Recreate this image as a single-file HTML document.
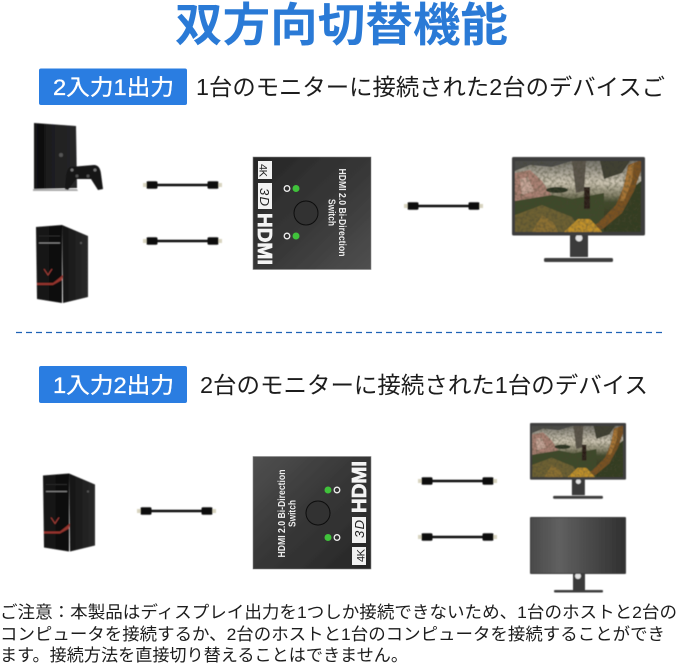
<!DOCTYPE html>
<html lang="ja"><head><meta charset="utf-8"><style>
html,body{margin:0;padding:0;background:#fff;width:679px;height:664px;overflow:hidden}
svg{display:block}
text{font-family:"Liberation Sans","Noto Sans CJK JP",sans-serif}
</style></head><body>
<svg width="679" height="664" viewBox="0 0 679 664" xmlns="http://www.w3.org/2000/svg">
<defs>
<filter id="b" x="-5%" y="-5%" width="110%" height="110%"><feGaussianBlur stdDeviation=".4"/></filter>
<filter id="b2" x="-5%" y="-5%" width="110%" height="110%"><feGaussianBlur stdDeviation=".25"/></filter>
<filter id="noise" x="0" y="0" width="100%" height="100%"><feTurbulence type="fractalNoise" baseFrequency=".35" numOctaves="2" seed="7"/><feColorMatrix values="0 0 0 0 .06  0 0 0 0 .06  0 0 0 0 .03  1.3 0 0 0 -.5"/></filter>
<clipPath id="scr"><rect x="3" y="4" width="126" height="71"/></clipPath>
<linearGradient id="sw" x1="0" y1="0" x2="1" y2="1"><stop offset="0" stop-color="#262626"/><stop offset=".55" stop-color="#383838"/><stop offset="1" stop-color="#505050"/></linearGradient>
<linearGradient id="sky" x1="0" y1="0" x2="0" y2="1"><stop offset="0" stop-color="#77756e"/><stop offset=".3" stop-color="#d0c8b6"/><stop offset=".48" stop-color="#85826a"/><stop offset=".58" stop-color="#414a2c"/><stop offset="1" stop-color="#2e2d18"/></linearGradient>
<linearGradient id="off" x1="0" y1="0" x2="1" y2="0"><stop offset="0" stop-color="#4a4a4a"/><stop offset=".3" stop-color="#606060"/><stop offset="1" stop-color="#303030"/></linearGradient>
<linearGradient id="tw" x1="0" y1="0" x2="1" y2="0"><stop offset="0" stop-color="#171717"/><stop offset="1" stop-color="#0c0c0c"/></linearGradient>
<linearGradient id="tws" x1="0" y1="0" x2="1" y2="0"><stop offset="0" stop-color="#141414"/><stop offset="1" stop-color="#2a2a2a"/></linearGradient>
<linearGradient id="ps" x1="0" y1="0" x2="1" y2="0"><stop offset="0" stop-color="#151516"/><stop offset=".2" stop-color="#0c0c0c"/><stop offset=".3" stop-color="#1d1d1e"/><stop offset="1" stop-color="#272728"/></linearGradient>
<g id="cable">
<rect x="0" y="-2" width="5" height="4" fill="#d8d4c0"/>
<rect x="74" y="-2" width="5" height="4" fill="#d8d4c0"/>
<rect x="3.500" y="-3.700" width="11" height="7.400" rx="1.500" fill="#111"/>
<rect x="64.500" y="-3.700" width="11" height="7.400" rx="1.500" fill="#111"/>
<path d="M14 0H65" stroke="#111" stroke-width="2.400"/>
</g>
<g id="tower">
<path d="M0 2L26 0V78L1 74Z" fill="url(#tw)"/>
<path d="M26 0L52 11V72L27 78Z" fill="url(#tws)"/>
<path d="M3 18H24" stroke="#888" stroke-width="1"/>
<path d="M3 11H24" stroke="#333" stroke-width=".8"/>
<path d="M1 58L17 58L27 50L26 55L17 60H1Z" fill="#96352f"/>
<path d="M8 44L12 50L16 44" fill="none" stroke="#a8403a" stroke-width="1"/>
<rect x="44" y="17" width="2" height="2" fill="#555"/>
</g>
<g id="mon">
<rect x="58" y="76" width="18" height="24" fill="#3a3a3a"/>
<circle cx="67" cy="81" r="3.500" fill="#e4e4e4"/>
<rect x="32" y="101" width="69" height="4" rx="1.500" fill="#3c3c3c"/>
<rect x="0" y="0" width="133" height="78.500" rx="1.500" fill="#3e3e3e"/>
<g clip-path="url(#scr)">
<rect x="3" y="4" width="126" height="71" fill="url(#sky)"/>
<path d="M3 4H60L40 10L18 8L3 14Z" fill="#4c4c4a"/>
<path d="M3 16L18 13L30 24L42 42L3 46Z" fill="#ab8174"/>
<path d="M8 22L16 20L22 34L10 38Z" fill="#c9a79a"/>
<path d="M3 44L40 38L60 42L92 36V75H3Z" fill="#3d482a"/>
<path d="M3 58L30 48L60 60L70 75H3Z" fill="#6e6130"/>
<path d="M60 4L74 4L72 34L64 36Z" fill="#5c554c"/>
<ellipse cx="45" cy="33" rx="11" ry="3" fill="#2a3322"/>
<path d="M88 4H118L110 16L92 22Z" fill="#3e3e32"/>
<path d="M112 38L129 24V75H92Z" fill="#333c20"/>
<path d="M70 75L86 66L104 48L113 26L116 8L129 3V14L122 34L110 56L92 71L84 75Z" fill="#7c5222"/>
<path d="M116 10L122 6L120 24L112 44L108 44Z" fill="#a87434"/>
<path d="M52 75L66 62L78 62L90 75Z" fill="#c2922c"/>
<path d="M20 75L30 58L42 66L46 75Z" fill="#8c7030"/>
<rect x="72" y="30" width="6" height="22" fill="#2a1d18"/>
<rect x="3" y="4" width="126" height="71" filter="url(#noise)"/>
</g>
</g>
<g id="monoff">
<rect x="43" y="56" width="12" height="18" fill="#3a3a3a"/>
<circle cx="48" cy="59" r="3" fill="#e4e4e4"/>
<rect x="24" y="73" width="49" height="2.500" rx="1" fill="#3c3c3c"/>
<rect x="0" y="0" width="96" height="57" rx="1" fill="#3a3a3a"/>
<rect x="1" y="1" width="94" height="55" fill="url(#off)"/>
</g>
<g id="swg">
<rect x="253" y="157" width="118" height="112.500" fill="url(#sw)" stroke="#888" stroke-width=".6"/>
<rect x="258" y="161" width="14" height="18" fill="#f2f2f2"/>
<rect x="258" y="183" width="14" height="26" fill="#f2f2f2"/>
<circle cx="306" cy="213" r="12" fill="#333" stroke="#0c0c0c" stroke-width="1"/>
<circle cx="296" cy="188.500" r="3.500" fill="#3fc23a"/>
<circle cx="296" cy="236" r="3.500" fill="#3fc23a"/>
<circle cx="287" cy="188.500" r="2.800" fill="none" stroke="#eee" stroke-width="1.300"/>
<circle cx="287" cy="236" r="2.800" fill="none" stroke="#eee" stroke-width="1.300"/>
</g>
</defs>

<text x="175" y="41" font-size="46" font-weight="700" fill="#2a7ad6" textLength="333" lengthAdjust="spacingAndGlyphs">双方向切替機能</text>

<rect x="39" y="68.500" width="148" height="36.500" rx="2" fill="#2a7de1"/>
<text x="53" y="95" font-size="22" fill="#fff" stroke="#fff" stroke-width=".3" textLength="121" lengthAdjust="spacingAndGlyphs">2入力1出力</text>
<text x="196" y="95" font-size="23" fill="#1c1c1c" textLength="469" lengthAdjust="spacingAndGlyphs">1台のモニターに接続された2台のデバイスご</text>

<g filter="url(#b)">
<path d="M34 123L76 126L77 188L34 189Z" fill="url(#ps)"/>
<path d="M33 189H77L78 191H33Z" fill="#aaa"/>
<circle cx="61" cy="155" r="2" fill="#555"/>
<path d="M70 167L94 165Q100 165 101 174L103 189L98 190L91 179H76L68 190L65 189L66 176Q67 169 70 167Z" fill="#141416"/>
<circle cx="72" cy="170" r="1.500" fill="#777"/><circle cx="95" cy="170" r="1.500" fill="#777"/>
<circle cx="77" cy="176" r="1.500" fill="#555"/><circle cx="88" cy="176" r="1.500" fill="#555"/>
<use href="#tower" x="36" y="225"/>
<use href="#cable" x="143" y="185"/>
<use href="#cable" x="143" y="241"/>
<use href="#cable" x="404" y="206"/>
<use href="#mon" x="512" y="157"/>
<use href="#tower" x="43" y="473.500"/>
<use href="#cable" x="137" y="511"/>
<use href="#cable" x="418" y="481"/>
<use href="#cable" x="418" y="537"/>
<use href="#mon" transform="translate(530,423) scale(.722,.722)"/>
<use href="#monoff" x="530" y="517"/>
</g>

<g filter="url(#b2)">
<use href="#swg"/>
<text transform="translate(259.500,164) rotate(90)" font-size="11" fill="#222" textLength="13">4K</text>
<text transform="translate(260,188) rotate(90)" font-size="13" font-style="italic" fill="#222" textLength="18">3D</text>
<text transform="translate(258,213) rotate(90)" font-size="20" font-weight="700" fill="#f4f4f4" stroke="#f4f4f4" stroke-width=".7" textLength="52" lengthAdjust="spacingAndGlyphs">HDMI</text>
<text transform="translate(339,168.500) rotate(90)" font-size="10.500" font-weight="700" fill="#eee" textLength="88" lengthAdjust="spacingAndGlyphs">HDMI 2.0 Bi-Direction</text>
<text transform="translate(328.500,199) rotate(90)" font-size="10.500" font-weight="700" fill="#eee" textLength="27" lengthAdjust="spacingAndGlyphs">Switch</text>
</g>

<line x1="16" y1="332.500" x2="662" y2="332.500" stroke="#1f62b5" stroke-width="1.300" stroke-dasharray="6 4"/>

<rect x="39" y="366" width="148" height="37" rx="2" fill="#2a7de1"/>
<text x="53" y="393" font-size="22" fill="#fff" stroke="#fff" stroke-width=".3" textLength="121" lengthAdjust="spacingAndGlyphs">1入力2出力</text>
<text x="200" y="393" font-size="23" fill="#1c1c1c" textLength="448" lengthAdjust="spacingAndGlyphs">2台のモニターに接続された1台のデバイス</text>

<g transform="rotate(180 312 213) translate(0,-300)" filter="url(#b2)">
<use href="#swg"/>
<text transform="translate(259.500,164) rotate(90)" font-size="11" fill="#222" textLength="13">4K</text>
<text transform="translate(260,188) rotate(90)" font-size="13" font-style="italic" fill="#222" textLength="18">3D</text>
<text transform="translate(258,213) rotate(90)" font-size="20" font-weight="700" fill="#f4f4f4" stroke="#f4f4f4" stroke-width=".7" textLength="52" lengthAdjust="spacingAndGlyphs">HDMI</text>
<text transform="translate(339,168.500) rotate(90)" font-size="10.500" font-weight="700" fill="#eee" textLength="88" lengthAdjust="spacingAndGlyphs">HDMI 2.0 Bi-Direction</text>
<text transform="translate(328.500,199) rotate(90)" font-size="10.500" font-weight="700" fill="#eee" textLength="27" lengthAdjust="spacingAndGlyphs">Switch</text>
</g>

<text x="0" y="618" font-size="17" fill="#1c1c1c" textLength="677" lengthAdjust="spacingAndGlyphs">ご注意：本製品はディスプレイ出力を1つしか接続できないため、1台のホストと2台の</text>
<text x="0" y="640" font-size="17" fill="#1c1c1c" textLength="665" lengthAdjust="spacingAndGlyphs">コンピュータを接続するか、2台のホストと1台のコンピュータを接続することができ</text>
<text x="0" y="661" font-size="17" fill="#1c1c1c" textLength="408" lengthAdjust="spacingAndGlyphs">ます。接続方法を直接切り替えることはできません。</text>
</svg>
</body></html>
